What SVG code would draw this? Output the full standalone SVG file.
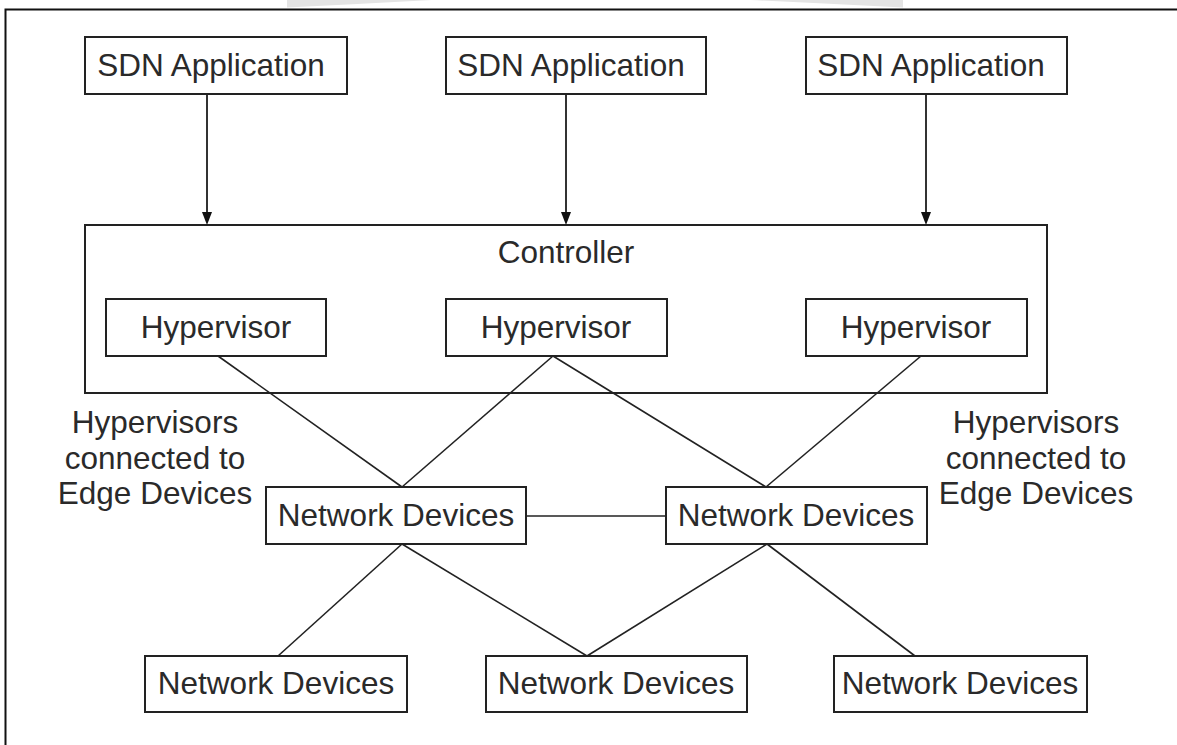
<svg xmlns="http://www.w3.org/2000/svg" width="1177" height="745" viewBox="0 0 1177 745">
<style>
.box{fill:#fff;stroke:#222;stroke-width:2}
.frame{fill:none;stroke:#222;stroke-width:2}
.lbl{font-family:"Liberation Sans",Arial,sans-serif;font-size:31.5px;fill:#2a2a2a;text-anchor:middle}
.ln{stroke:#222;stroke-width:1.6;fill:none}
.arr{stroke:#333;stroke-width:2;fill:none}
.head{fill:#111}
</style>
<rect width="1177" height="745" fill="#fff"/>
<g id="watermark" fill="#e4e4e4">
<path d="M287,0 L287,7.5 Q360,4 432,0 Z"/>
<path d="M750,0 Q830,4 903,7.5 L903,0 Z"/>
</g>
<g id="frame" stroke="#111" stroke-width="2" fill="none">
<path d="M5.5,745 L5.5,9.5 L1177,9.5"/>
</g>
<g id="controller"><rect class="frame" x="85" y="225" width="962" height="168"/><text class="lbl" x="566" y="263">Controller</text></g>
<g id="connectors">
<line class="arr" x1="207" y1="94" x2="207" y2="213"/>
<path class="head" d="M202,212 L212,212 L207,225 Z"/>
<line class="arr" x1="566" y1="94" x2="566" y2="213"/>
<path class="head" d="M561,212 L571,212 L566,225 Z"/>
<line class="arr" x1="926" y1="94" x2="926" y2="213"/>
<path class="head" d="M921,212 L931,212 L926,225 Z"/>
<line class="ln" x1="218" y1="356" x2="402" y2="487"/>
<line class="ln" x1="553" y1="356" x2="402" y2="487"/>
<line class="ln" x1="553" y1="356" x2="766" y2="487"/>
<line class="ln" x1="921" y1="356" x2="766" y2="487"/>
<line class="ln" x1="526" y1="516" x2="666" y2="516"/>
<line class="ln" x1="402" y1="544" x2="278" y2="656"/>
<line class="ln" x1="402" y1="544" x2="587" y2="656"/>
<line class="ln" x1="767" y1="544" x2="587" y2="656"/>
<line class="ln" x1="767" y1="544" x2="915" y2="656"/>
</g>
<g id="app1"><rect class="box" x="85" y="37" width="262" height="57"/><text class="lbl" x="211" y="76">SDN Application</text></g>
<g id="app2"><rect class="box" x="446" y="37" width="260" height="57"/><text class="lbl" x="571" y="76">SDN Application</text></g>
<g id="app3"><rect class="box" x="806" y="37" width="261" height="57"/><text class="lbl" x="931" y="76">SDN Application</text></g>
<g id="hyp1"><rect class="box" x="106" y="299" width="220" height="57"/><text class="lbl" x="216" y="338">Hypervisor</text></g>
<g id="hyp2"><rect class="box" x="446" y="299" width="221" height="57"/><text class="lbl" x="556" y="338">Hypervisor</text></g>
<g id="hyp3"><rect class="box" x="806" y="299" width="221" height="57"/><text class="lbl" x="916" y="338">Hypervisor</text></g>
<g id="nd1"><rect class="box" x="266" y="487" width="260" height="57"/><text class="lbl" x="396" y="526">Network Devices</text></g>
<g id="nd2"><rect class="box" x="666" y="487" width="261" height="57"/><text class="lbl" x="796" y="526">Network Devices</text></g>
<g id="nd3"><rect class="box" x="145" y="656" width="262" height="56"/><text class="lbl" x="276" y="694">Network Devices</text></g>
<g id="nd4"><rect class="box" x="486" y="656" width="261" height="56"/><text class="lbl" x="616" y="694">Network Devices</text></g>
<g id="nd5"><rect class="box" x="834" y="656" width="253" height="56"/><text class="lbl" x="960" y="694">Network Devices</text></g>
<g id="label-left"><text class="lbl" x="155" y="433">Hypervisors</text><text class="lbl" x="155" y="469">connected to</text><text class="lbl" x="155" y="504">Edge Devices</text></g>
<g id="label-right"><text class="lbl" x="1036" y="433">Hypervisors</text><text class="lbl" x="1036" y="469">connected to</text><text class="lbl" x="1036" y="504">Edge Devices</text></g>
</svg>
